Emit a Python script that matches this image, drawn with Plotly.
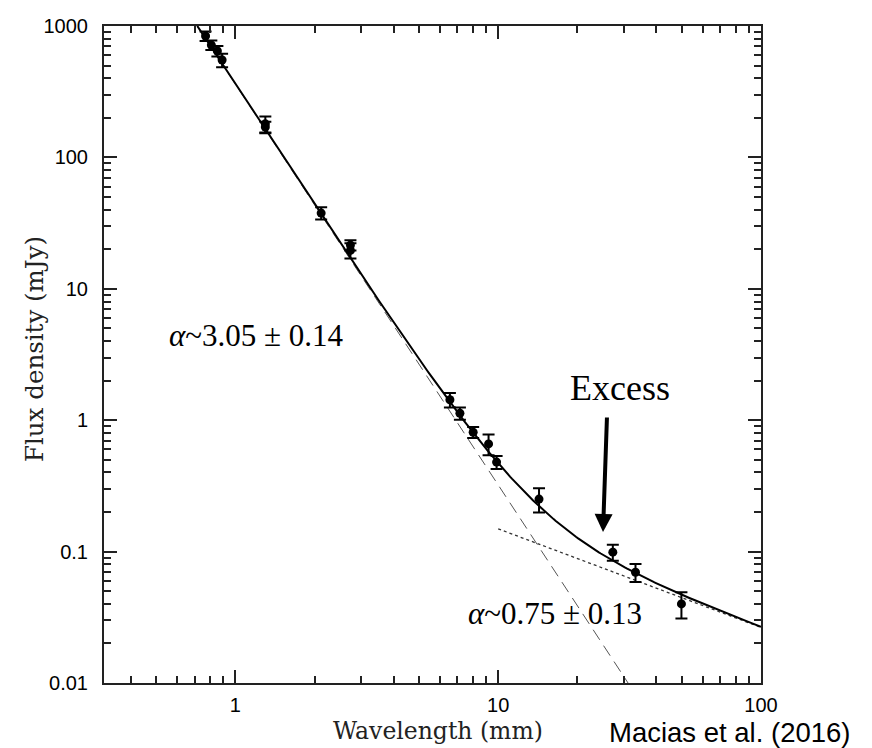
import numpy as np
import plotly.graph_objects as go

# ---- data ----
wavelength_mm = [0.77, 0.81, 0.854, 0.89, 1.30, 1.30, 2.12, 2.74, 2.74,
                 6.55, 7.15, 8.03, 9.19, 9.86, 14.3, 27.3, 33.3, 49.8]
flux_mjy = [840, 716, 645, 551, 180, 170, 37.7, 21.5, 19.6,
            1.43, 1.13, 0.81, 0.66, 0.48, 0.251, 0.099, 0.0696, 0.040]
flux_err = [70, 60, 60, 65, 25, 17, 4.0, 1.9, 2.6,
            0.18, 0.12, 0.077, 0.12, 0.055, 0.053, 0.014, 0.011, 0.009]

# dust power law (dashed) endpoints and free-free power law (dotted) endpoints
dust_x = [0.716, 31.2]
dust_y = [1000, 0.01]
ff_x = [10, 100]
ff_y = [0.149, 0.0265]

y_ticks = [0.01, 0.1, 1, 10, 100, 1000]
y_ticktext = ["0.01", "0.1", "1", "10", "100", "1000"]
x_ticks = [1, 10, 100]
x_ticktext = ["1", "10", "100"]

# ---- total model = dust + free-free power laws ----
def powerlaw(xs, ys):
    slope = np.log10(ys[1] / ys[0]) / np.log10(xs[1] / xs[0])
    return lambda lam: ys[0] * (lam / xs[0]) ** slope

dust = powerlaw(dust_x, dust_y)
ff = powerlaw(ff_x, ff_y)
lam = np.logspace(np.log10(dust_x[0]), 2, 300)
total = dust(lam) + ff(lam)

fig = go.Figure()
fig.add_trace(go.Scatter(x=dust_x, y=dust_y, mode="lines",
                         line=dict(color="#555", width=1, dash="12px,7px"),
                         hoverinfo="skip"))
fig.add_trace(go.Scatter(x=ff_x, y=ff_y, mode="lines",
                         line=dict(color="#333", width=1.3, dash="dot"),
                         hoverinfo="skip"))
fig.add_trace(go.Scatter(x=lam, y=total, mode="lines",
                         line=dict(color="black", width=2), hoverinfo="skip"))
fig.add_trace(go.Scatter(x=wavelength_mm, y=flux_mjy, mode="markers",
                         marker=dict(color="black", size=9),
                         error_y=dict(type="data", array=flux_err, color="black",
                                      thickness=2, width=6)))

axis_common = dict(showline=True, linecolor="#222", linewidth=2, mirror="ticks",
                   ticks="inside", ticklen=13, tickwidth=1.5, tickcolor="#222",
                   showgrid=False, zeroline=False, automargin=False,
                   tickfont=dict(family="Liberation Sans", size=20, color="black"))

minor_x = [m * 10 ** d for d in (-1, 0, 1) for m in range(2, 10) if 0.316 < m * 10 ** d < 100]
minor_y = [m * 10 ** d for d in (-2, -1, 0, 1, 2) for m in range(2, 10)]

fig.update_xaxes(type="log", range=[-0.5, 2], tickvals=x_ticks, ticktext=x_ticktext,
                 ticklabelstandoff=3,
                 minor=dict(tickvals=minor_x, ticks="inside", ticklen=7,
                            tickwidth=1.5, tickcolor="#222"),
                 **axis_common)
fig.update_yaxes(type="log", range=[-2, 3], tickvals=y_ticks, ticktext=y_ticktext,
                 ticklabelstandoff=10,
                 minor=dict(tickvals=minor_y, ticks="inside", ticklen=7,
                            tickwidth=1.5, tickcolor="#222"),
                 **axis_common)

L, R, T, B = 96, 753, 18, 675
W, H = R - L, B - T
def px(xp):
    return (xp - L) / W
def py(yp):
    return (B - yp) / H

ann = [
    dict(x=px(26), y=py(341), text="Flux density (mJy)", textangle=-90,
         font=dict(family="DejaVu Serif", size=24.5, color="#222")),
    dict(x=px(430), y=py(723), text="Wavelength (mm)",
         font=dict(family="DejaVu Serif", size=23.5, color="#222")),
    dict(x=px(248), y=py(327), text="<i>α</i>~3.05 ± 0.14",
         font=dict(family="Liberation Serif", size=31, color="black")),
    dict(x=px(547), y=py(605), text="<i>α</i>~0.75 ± 0.13",
         font=dict(family="Liberation Serif", size=31, color="black")),
    dict(x=px(612), y=py(380), text="Excess",
         font=dict(family="Liberation Serif", size=36, color="black")),
    dict(x=px(722), y=py(724), text="Macias et al. (2016)",
         font=dict(family="Liberation Sans", size=27.5, color="black")),
]
for a in ann:
    a.update(xref="paper", yref="paper", showarrow=False, xanchor="center", yanchor="middle")

arrow = dict(xref="paper", yref="paper", x=px(595), y=py(524),
             axref="pixel", ayref="pixel", ax=4, ay=-116, text="", showarrow=True,
             arrowhead=2, arrowsize=0.9, arrowwidth=4, arrowcolor="black")

fig.update_layout(width=872, height=748, margin=dict(l=L, r=872 - R, t=T, b=748 - B),
                  paper_bgcolor="white", plot_bgcolor="white", showlegend=False,
                  annotations=ann + [arrow])

fig.write_html("out.html")
